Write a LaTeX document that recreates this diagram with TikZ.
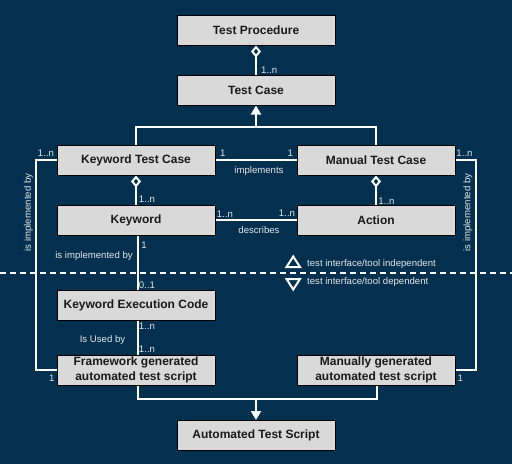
\documentclass[tikz,border=0pt]{standalone}
\usepackage{fontspec}
\setmainfont{Liberation Sans}
\usetikzlibrary{arrows.meta}
\definecolor{bg}{HTML}{03304F}
\definecolor{boxfill}{HTML}{D9D9D9}
\definecolor{lbl}{HTML}{E6E6E6}
\begin{document}
\begin{tikzpicture}[x=1pt,y=-1pt,
 box/.style={draw=black, line width=1pt, fill=boxfill, minimum width=158pt, minimum height=30pt, inner sep=0pt, font=\fontsize{12}{15}\selectfont\bfseries, align=center, text=black!90},
 conn/.style={draw=white, line width=2pt},
 small/.style={font=\fontsize{9.6}{11}\selectfont, text=lbl, inner sep=0pt},
 agg/.style={conn, {Diamond[open, fill=bg, length=12pt, width=10pt]}-},
 gen/.style={conn, -{Triangle[length=9pt,width=10pt]}}
]
\fill[bg] (0,0) rectangle (512,464);
\useasboundingbox (0,0) rectangle (512,464);
\draw[white, line width=1.5pt, dash pattern=on 6pt off 4pt] (0,273) -- (512,273);

\node[box] (tp) at (256,30) {Test Procedure};
\node[box] (tc) at (256,90) {Test Case};
\node[box] (ktc) at (136,160) {Keyword Test Case};
\node[box] (mtc) at (376,160) {Manual Test Case};
\node[box] (kw) at (136,220) {Keyword};
\node[box] (act) at (376,220) {Action};
\node[box] (kec) at (136,305.5) {Keyword Execution Code};
\node[box] (fw) at (136,370) {Framework generated\\automated test script};
\node[box] (mg) at (376,370) {Manually generated\\automated test script};
\node[box] (ats) at (256,435.5) {Automated Test Script};

\coordinate (gj) at (256,127);
\coordinate (bj) at (256,399);

\draw[agg] (tp.south) -- (tc.north);
\draw[conn] (ktc.north) |- (gj) -| (mtc.north);
\draw[gen] (gj) -- (tc.south);
\draw[conn] (ktc) -- (mtc);
\draw[conn] (ktc.west) -- ++(-21,0) |- (fw.west);
\draw[conn] (mtc.east) -- ++(20,0) |- (mg.east);
\draw[agg] (ktc.south) -- (kw.north);
\draw[agg] (mtc.south) -- (act.north);
\draw[conn] (kw) -- (act);
\draw[conn] ([xshift=2pt]kw.south) -- ([xshift=2pt]kec.north);
\draw[conn] ([xshift=2pt]kec.south) -- ([xshift=2pt]fw.north);
\draw[conn] ([xshift=2pt]fw.south) |- (bj) -| ([xshift=1pt]mg.south);
\draw[gen] (bj) -- (ats.north);

% legend
\draw[white, line width=2pt, fill=bg, line join=miter] (286.5,267) -- (300,267) -- (293.25,256.5) -- cycle;
\draw[white, line width=2pt, fill=bg, line join=miter] (286.5,279) -- (300,279) -- (293.25,289.5) -- cycle;
\node[small, anchor=west] (li) at (307,264) {test interface/tool independent};
\node[small, anchor=west] (ld) at (307,282) {test interface/tool dependent};

% labels
\node[small, anchor=west] (l1) at (261,70) {1..n};
\node[small] (l2) at (222.7,153) {1};
\node[small] (l3) at (290.3,153) {1};
\node[small] (l4) at (259,171) {implements};
\node[small] (l5) at (46,153) {1..n};
\node[small] (l6) at (464.5,153) {1..n};
\node[small] (l7) at (51.7,378.5) {1};
\node[small] (l8) at (460.3,378.5) {1};
\node[small, rotate=90] (l9) at (28.5,212.5) {is implemented by};
\node[small, rotate=90] (l10) at (468,212.5) {is implemented by};
\node[small] (l11) at (147,199) {1..n};
\node[small] (l12) at (386.5,201) {1..n};
\node[small] (l13) at (225,214.5) {1..n};
\node[small] (l14) at (287,213) {1..n};
\node[small] (l15) at (259,230) {describes};
\node[small] (l16) at (144,245) {1};
\node[small] (l17) at (94,256) {is implemented by};
\node[small] (l18) at (147,285) {0..1};
\node[small] (l19) at (147,325.7) {1..n};
\node[small] (l20) at (147,349) {1..n};
\node[small] (l21) at (102.5,340) {Is Used by};
\end{tikzpicture}
\end{document}
